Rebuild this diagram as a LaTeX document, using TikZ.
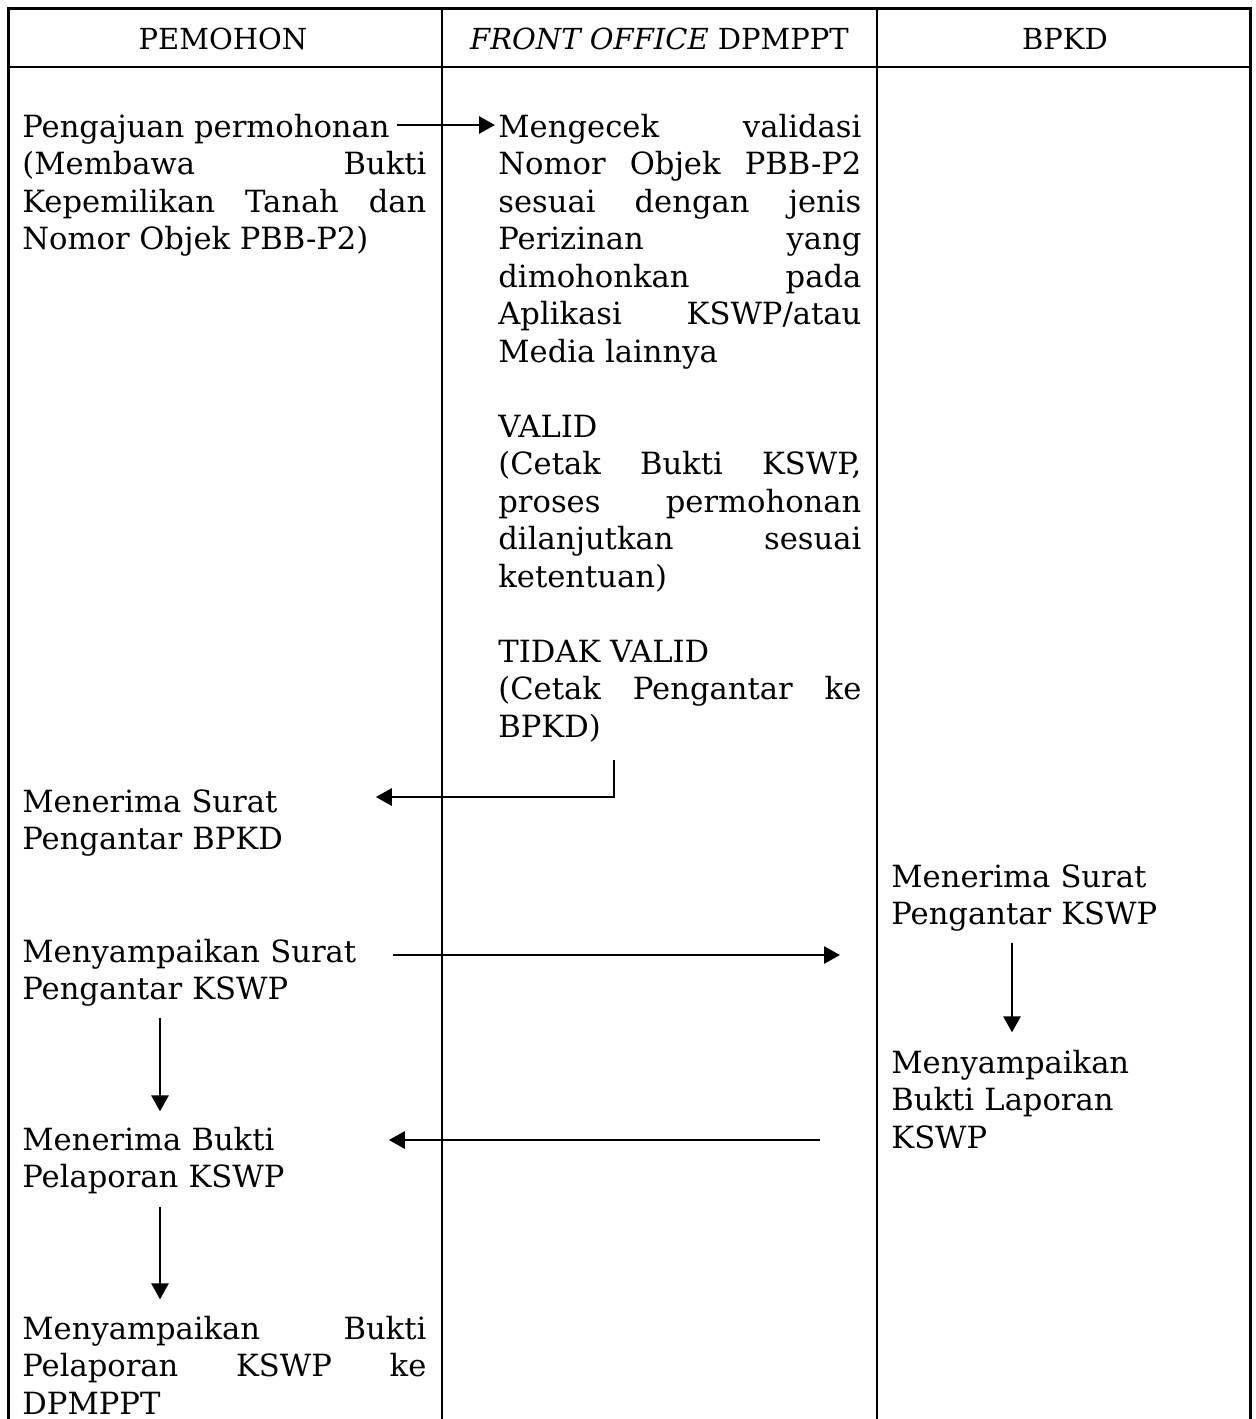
\documentclass[tikz,border=0pt]{standalone}
\usepackage{fontspec}
\setmainfont{DejaVu Serif}
\usetikzlibrary{arrows.meta}
\tikzset{
  txt/.style={inner sep=0pt, anchor=base west, font=\fontsize{15.3}{18.75}\selectfont},
  jtxt/.style={txt, align=justify},
  ltxt/.style={txt, align=left},
  head/.style={inner sep=0pt, anchor=base, font=\fontsize{14.5}{17}\selectfont},
  arr/.style={line width=1.4pt, -{Triangle[length=8pt,width=8.5pt]}}
}
\begin{document}
\begin{tikzpicture}[x=0.5pt, y=-0.5pt]
    \useasboundingbox (0,0) rectangle (1256,1419);
    \draw[line width=1.5pt] (8,1419) -- (8,8) -- (1250,8) -- (1250,1419);
    \draw[line width=1pt] (8,67) -- (1250,67);
    \draw[line width=1pt] (442,8) -- (442,1419);
    \draw[line width=1pt] (877,8) -- (877,1419);
    \node[head] (hApp) at (223,49) {PEMOHON};
    \node[head] (hFo) at (659.5,49) {\textit{FRONT OFFICE} DPMPPT};
    \node[head] (hBpkd) at (1065,49) {BPKD};
    \node[txt] (req) at (22,137) {Pengajuan permohonan};
    \node[jtxt, text width=202pt] (reqinfo) at (22,174.5) {(Membawa Bukti\linebreak Kepemilikan Tanah dan\linebreak Nomor Objek PBB-P2)};
    \node[jtxt, text width=181.5pt] (chk) at (498,137) {Mengecek validasi\linebreak Nomor Objek PBB-P2\linebreak sesuai dengan jenis\linebreak Perizinan yang\linebreak dimohonkan pada\linebreak Aplikasi KSWP/atau\linebreak Media lainnya};
    \node[jtxt, text width=181.5pt] (valid) at (498,437) {VALID\\(Cetak Bukti KSWP,\linebreak proses permohonan\linebreak dilanjutkan sesuai\linebreak ketentuan)};
    \node[jtxt, text width=181.5pt] (invalid) at (498,662) {TIDAK VALID\\(Cetak Pengantar ke\linebreak BPKD)};
    \node[ltxt, text width=175pt] (recv) at (22,812) {Menerima Surat\\Pengantar BPKD};
    \node[ltxt, text width=175pt] (send1) at (22,962) {Menyampaikan Surat\\Pengantar KSWP};
    \node[ltxt, text width=175pt] (recvb) at (22,1150) {Menerima Bukti\\Pelaporan KSWP};
    \node[jtxt, text width=202pt] (sendb) at (22,1339) {Menyampaikan Bukti\linebreak Pelaporan KSWP ke\linebreak DPMPPT};
    \node[ltxt, text width=170pt] (recv3) at (891,887) {Menerima Surat\\Pengantar KSWP};
    \node[ltxt, text width=170pt] (rep3) at (891,1073) {Menyampaikan\\Bukti Laporan\\KSWP};
    \draw[arr, shorten <=3.5pt, shorten >=1.5pt] ([yshift=6pt]req.base east) -- ([yshift=6pt]chk.base west);
    \draw[arr, shorten >=1.5pt] ([xshift=58pt,yshift=-9pt]invalid.south west) |- ([yshift=7.5pt]recv.base east);
    \draw[arr, shorten <=10pt, shorten >=25.5pt] ([yshift=3.5pt]send1.base east) -- ([yshift=-34pt]recv3.base west);
    \draw[arr, shorten <=5.5pt, shorten >=8.5pt] ([xshift=60.5pt]recv3.south west) -- ([xshift=60.5pt]rep3.north west);
    \draw[arr, shorten <=5.5pt, shorten >=7.5pt] ([xshift=69pt]send1.south west) -- ([xshift=69pt]recvb.north west);
    \draw[arr, shorten <=35.5pt, shorten >=8pt] ([yshift=-33.5pt]rep3.base west) -- ([yshift=5pt]recvb.base east);
    \draw[arr, shorten <=6.5pt, shorten >=8pt] ([xshift=69pt]recvb.south west) -- ([xshift=69pt]sendb.north west);
\end{tikzpicture}
\end{document}
